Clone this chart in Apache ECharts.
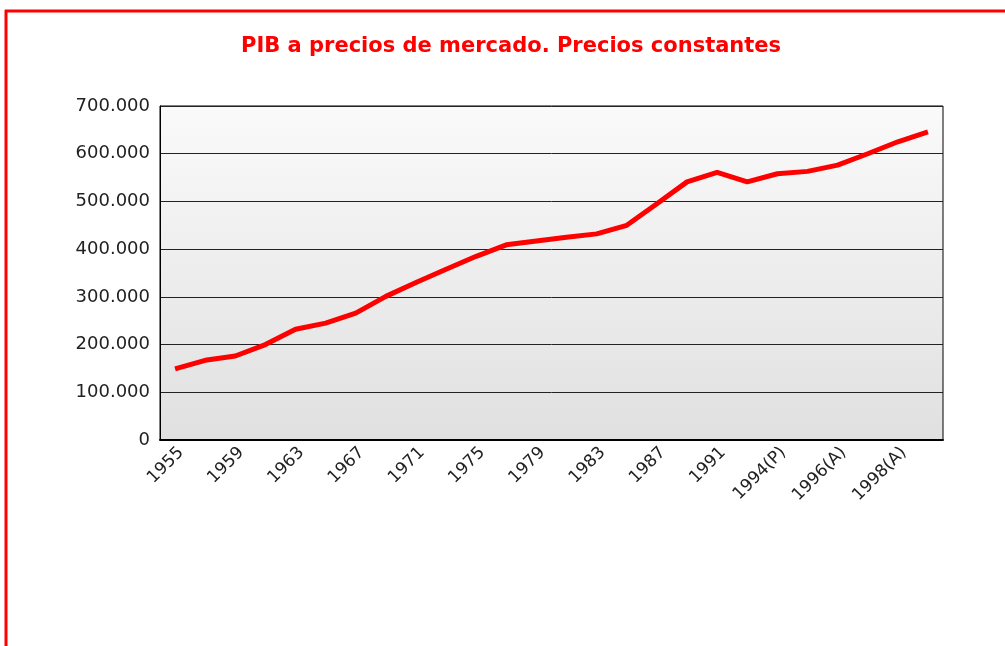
<!DOCTYPE html>
<html><head><meta charset="utf-8">
<script src="https://cdn.jsdelivr.net/npm/echarts@6/dist/echarts.min.js"></script>
<style>html,body{margin:0;padding:0;background:#fff}#c{width:1005px;height:646px}</style>
</head><body><div id="c"></div>
<script>
const titleText = 'PIB a precios de mercado. Precios constantes';
const categories = ['1955','1957','1959','1961','1963','1965','1967','1969','1971','1973','1975','1977','1979','1981','1983','1985','1987','1989','1991','1993','1994(P)','1995(P)','1996(A)','1997(A)','1998(A)','1999(A)'];
const pib = [149000,167000,176000,200000,232000,245000,266000,301000,330000,358000,385000,409000,417000,425000,432000,450000,495000,541000,561000,541000,558000,563000,576000,600000,625000,646000];
const yTicks = {min:0, max:700000, interval:100000};

const chart = echarts.init(document.getElementById('c'));
chart.setOption({
  animation:false,
  title:{text:titleText,left:236,top:31,textStyle:{color:'#ff0000',fontSize:21,fontWeight:'bold',fontFamily:'DejaVu Sans'}},
  graphic:[
    {type:'line',shape:{x1:5,y1:11,x2:1005,y2:11},style:{stroke:'#ff0000',lineWidth:3}},
    {type:'line',shape:{x1:6,y1:10,x2:6,y2:646},style:{stroke:'#ff0000',lineWidth:3}}
  ],
  grid:{left:160,right:62,top:106,bottom:206,show:true,borderColor:'#000',borderWidth:1,
    backgroundColor:new echarts.graphic.LinearGradient(0,0,0,1,[{offset:0,color:'#fafafa'},{offset:1,color:'#e0e0e0'}])},
  xAxis:{type:'category',data:categories,boundaryGap:true,
    axisLine:{lineStyle:{color:'#000',width:2}},axisTick:{show:false},
    axisLabel:{interval:1,rotate:45,color:'#222',fontSize:17,fontFamily:'DejaVu Sans',margin:4,verticalAlign:'top'}},
  yAxis:{type:'value',min:yTicks.min,max:yTicks.max,interval:yTicks.interval,
    axisLine:{show:true,lineStyle:{color:'#000',width:1}},axisTick:{show:false},
    splitLine:{lineStyle:{color:'#222',width:1}},
    axisLabel:{color:'#222',fontSize:18,fontFamily:'DejaVu Sans',margin:10,
      formatter:v=>v.toString().replace(/\B(?=(\d{3})+(?!\d))/g,'.')}},
  series:[{type:'line',data:pib,showSymbol:false,lineStyle:{color:'#ff0000',width:5},itemStyle:{color:'#ff0000'}}]
});
</script></body></html>
